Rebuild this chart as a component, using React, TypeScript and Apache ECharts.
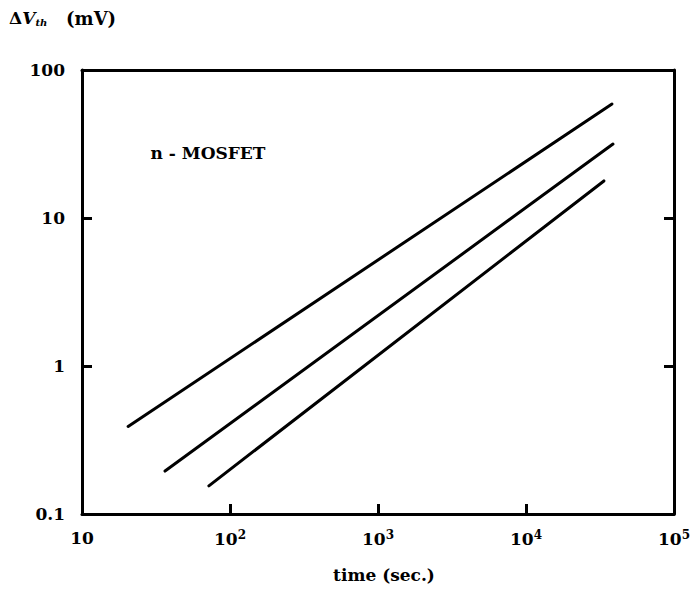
import React, { useEffect, useRef } from "react";
import * as echarts from "echarts";

const lineLabels = ["upper", "middle", "lower"];
const upperLine: [number, number][] = [[20.5, 0.39], [38100, 58.9]];
const middleLine: [number, number][] = [[36.4, 0.195], [38700, 31.6]];
const lowerLine: [number, number][] = [[72, 0.155], [33600, 17.8]];
const seriesData = [upperLine, middleLine, lowerLine];

const xMin = 10;
const xMax = 100000;
const yMin = 0.1;
const yMax = 100;
const yTickLabels: Record<string, string> = { "-1": "0.1", "0": "1", "1": "10", "2": "100" };

const annotation = "n - MOSFET";
const xTitle = "time (sec.)";

const FONT = "'DejaVu Serif', 'Liberation Serif', serif";

export default function App() {
  const ref = useRef<HTMLDivElement>(null);
  useEffect(() => {
    if (!ref.current) return;
    const chart = echarts.init(ref.current, undefined, { renderer: "svg" });
    const axisLine = { show: true, lineStyle: { color: "#000", width: 3 } };
    const tick = { show: true, inside: true, length: 10, lineStyle: { color: "#000", width: 3 } };
    const xFmt = (v: number) => {
      const e = Math.round(Math.log10(v));
      return e === 1 ? "10" : "10{s|" + e + "}";
    };
    const labelBase = { color: "#000", fontFamily: FONT, fontWeight: "bold" as const, fontSize: 17 };
    chart.setOption({
      animation: false,
      backgroundColor: "#fff",
      grid: { left: 82, right: 24, top: 70, bottom: 76, containLabel: false },
      xAxis: [
        {
          type: "log",
          logBase: 10,
          min: xMin,
          max: xMax,
          interval: 1,
          position: "bottom",
          axisLine,
          axisTick: { ...tick, customValues: [100, 1000, 10000] },
          splitLine: { show: false },
          minorTick: { show: false },
          axisLabel: {
            ...labelBase,
            margin: 15,
            formatter: xFmt,
            showMinLabel: true,
            showMaxLabel: true,
            rich: {
              s: { ...labelBase, fontSize: 12, verticalAlign: "top", padding: [0, 0, 8, 0] },
            },
          },
        },
        {
          type: "log",
          logBase: 10,
          min: xMin,
          max: xMax,
          position: "top",
          axisLine,
          axisTick: { show: false },
          axisLabel: { show: false },
          splitLine: { show: false },
        },
      ],
      yAxis: [
        {
          type: "log",
          logBase: 10,
          min: yMin,
          max: yMax,
          interval: 1,
          position: "left",
          axisLine,
          axisTick: { ...tick, customValues: [1, 10] },
          splitLine: { show: false },
          axisLabel: {
            ...labelBase,
            margin: 17,
            formatter: (v: number) => yTickLabels[String(Math.round(Math.log10(v)))] ?? "",
          },
        },
        {
          type: "log",
          logBase: 10,
          min: yMin,
          max: yMax,
          interval: 1,
          position: "right",
          axisLine,
          axisTick: { ...tick, customValues: [1, 10] },
          axisLabel: { show: false },
          splitLine: { show: false },
        },
      ],
      series: seriesData.map((d, i) => ({
        name: lineLabels[i],
        type: "line",
        data: d,
        showSymbol: false,
        symbol: "none",
        lineStyle: { color: "#000", width: 3, cap: "round" },
        silent: true,
      })),
      graphic: [
        {
          type: "text",
          left: 9,
          top: 9,
          style: {
            text: "{d|Δ}{v|V}{t|th}{u|   (mV)}",
            rich: {
              d: { ...labelBase, fontSize: 17 },
              v: { ...labelBase, fontSize: 17, fontStyle: "italic" },
              t: { ...labelBase, fontSize: 10, fontStyle: "italic", verticalAlign: "bottom", padding: [9, 0, 0, 0] },
              u: { ...labelBase, fontSize: 18 },
            },
          },
        },
        {
          type: "text",
          x: 208,
          y: 153,
          style: {
            text: annotation,
            ...labelBase,
            fontSize: 17,
            align: "center",
            verticalAlign: "middle",
          },
        },
        {
          type: "text",
          x: 384,
          y: 575,
          style: {
            text: xTitle,
            ...labelBase,
            fontSize: 17,
            align: "center",
            verticalAlign: "middle",
          },
        },
      ],
    });
    return () => chart.dispose();
  }, []);
  return <div ref={ref} style={{ width: 698, height: 590, position: "absolute", left: 0, top: 0 }} />;
}
